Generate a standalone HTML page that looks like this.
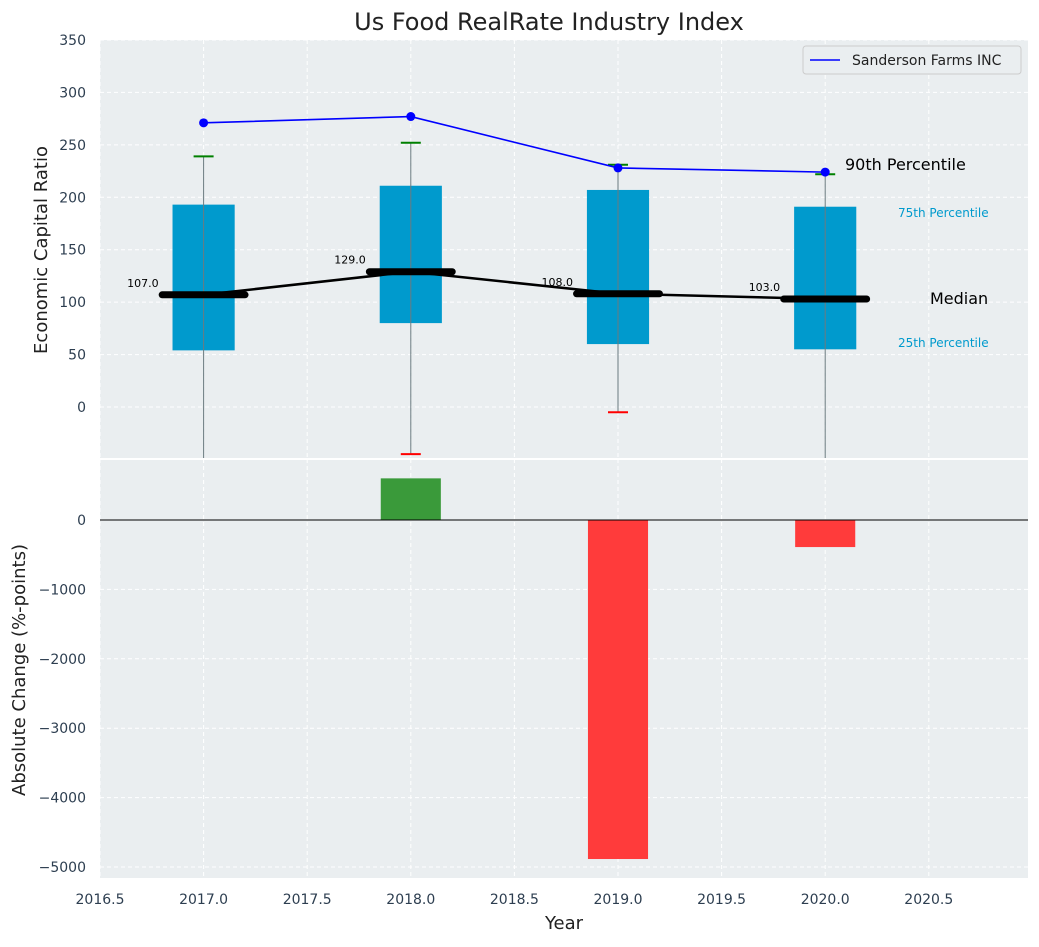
<!DOCTYPE html>
<html><head><meta charset="utf-8"><style>
body{margin:0;background:#fff;}
svg text{font-family:"DejaVu Sans","Liberation Sans",sans-serif;}
</style></head><body>
<svg id="c" width="1039" height="942" xmlns="http://www.w3.org/2000/svg"></svg>
<script>
const years=[2017,2018,2019,2020];
const q1=[54,80,60,55];
const q3=[193,211,207,191];
const medians=[107,129,108,103];
const whiskHi=[239,252,231,222];
const whiskLo=[-60,-45,-5,-60];
const company=[271,277,228,224];
const changes=[null,600,-4885,-390];
const xTicks=[2016.5,2017,2017.5,2018,2018.5,2019,2019.5,2020,2020.5];
const yTopTicks=[0,50,100,150,200,250,300,350];
const yBotTicks=[0,-1000,-2000,-3000,-4000,-5000];

const svg=document.getElementById('c');
const NS='http://www.w3.org/2000/svg';
function el(t,a,p){const e=document.createElementNS(NS,t);for(const k in a)e.setAttribute(k,a[k]);(p||svg).appendChild(e);return e;}
const L=100,R=1028;
const x=v=>L+(v-2016.5)*207.2;
const T0=40,T1=459,B0=459,B1=878;
const yT=v=>407-v*1.0486;
const yB=v=>520-v*0.0694;

// backgrounds
let e=el('rect',{x:L,y:T0,width:R-L,height:T1-T0,fill:'#eaeef0'});

e=el('rect',{x:L,y:B0+1,width:R-L,height:B1-B0-1,fill:'#eaeef0'});

el('line',{x1:L,x2:R,y1:459,y2:459,stroke:'#fff','stroke-width':2});

// grids
xTicks.forEach(v=>{
 el('line',{x1:x(v),x2:x(v),y1:T0,y2:T1,stroke:'#fff','stroke-dasharray':'4,3'});
 el('line',{x1:x(v),x2:x(v),y1:B0,y2:B1,stroke:'#fff','stroke-dasharray':'4,3'});
 e=el('text',{x:x(v),y:904,'text-anchor':'middle','font-size':14,fill:'#2d3e50'});e.textContent=v.toFixed(1);
 
});
yTopTicks.forEach(v=>{
 el('line',{x1:L,x2:R,y1:yT(v),y2:yT(v),stroke:'#fff','stroke-dasharray':'4,3'});
 e=el('text',{x:86,y:yT(v)+5,'text-anchor':'end','font-size':14,fill:'#2d3e50'});e.textContent=v;
 
});
yBotTicks.forEach(v=>{
 el('line',{x1:L,x2:R,y1:yB(v),y2:yB(v),stroke:'#fff','stroke-dasharray':'4,3'});
 e=el('text',{x:86,y:yB(v)+5,'text-anchor':'end','font-size':14,fill:'#2d3e50'});e.textContent=v===0?'0':'\u2212'+Math.abs(v);
 
});

// top clip
const defs=el('defs',{});
const cp=el('clipPath',{id:'tc'},defs);el('rect',{x:L,y:T0,width:R-L,height:T1-T0-1},cp);
const g=el('g',{'clip-path':'url(#tc)'});

const bw=0.3*207.2, mw=0.4*207.2;
years.forEach((yr,i)=>{
 const cx=x(yr);
 e=el('rect',{x:cx-bw/2,y:yT(q3[i]),width:bw,height:yT(q1[i])-yT(q3[i]),fill:'#009acd'},g);
 
 el('line',{x1:cx,x2:cx,y1:yT(whiskHi[i]),y2:yT(whiskLo[i]),stroke:'#6b7b80','stroke-width':1},g);
 el('line',{x1:cx-10,x2:cx+10,y1:yT(whiskHi[i]),y2:yT(whiskHi[i]),stroke:'green','stroke-width':2},g);
 el('line',{x1:cx-10,x2:cx+10,y1:yT(whiskLo[i]),y2:yT(whiskLo[i]),stroke:'red','stroke-width':2},g);
});
let pts=years.map((yr,i)=>x(yr)+','+yT(medians[i])).join(' ');
e=el('polyline',{points:pts,fill:'none',stroke:'#000','stroke-width':2.5},g);

years.forEach((yr,i)=>{
 const cx=x(yr);
 e=el('line',{x1:cx-mw/2,x2:cx+mw/2,y1:yT(medians[i]),y2:yT(medians[i]),stroke:'#000','stroke-width':7,'stroke-linecap':'round'},g);
 
 e=el('text',{x:cx-45,y:yT(medians[i])-8,'text-anchor':'end','font-size':11,fill:'#000'},g);e.textContent=medians[i].toFixed(1);
 
});
pts=years.map((yr,i)=>x(yr)+','+yT(company[i])).join(' ');
e=el('polyline',{points:pts,fill:'none',stroke:'blue','stroke-width':1.6},g);

years.forEach((yr,i)=>{e=el('circle',{cx:x(yr),cy:yT(company[i]),r:4.5,fill:'blue'},g);
 });

// annotations
[['90th Percentile',845,170,16,'#000'],['75th Percentile',898,217,12,'#009acd'],['Median',930,304,16,'#000'],['25th Percentile',898,347,12,'#009acd']].forEach(a=>{
 e=el('text',{x:a[1],y:a[2],'font-size':a[3],fill:a[4]});e.textContent=a[0];
 
});

// legend
const lg=el('g',{});
el('rect',{x:803,y:46,width:218,height:28,rx:3,fill:'#eaeef0',stroke:'#ccc'},lg);
el('line',{x1:810,x2:840,y1:60,y2:60,stroke:'blue','stroke-width':1.6},lg);
e=el('text',{x:852,y:65,'font-size':14,fill:'#222'},lg);e.textContent='Sanderson Farms INC';

// bottom bars
const bb=0.29*207.2;
years.forEach((yr,i)=>{
 if(changes[i]===null)return;
 const v=changes[i];
 e=el('rect',{x:x(yr)-bb/2,y:Math.min(yB(v),yB(0)),width:bb,height:Math.abs(yB(v)-yB(0)),fill:v>=0?'#3a9a3a':'#ff3b3b'});
 
});
el('line',{x1:L,x2:R,y1:yB(0),y2:yB(0),stroke:'#000','stroke-width':1});

// titles
e=el('text',{x:549,y:30,'text-anchor':'middle','font-size':24,fill:'#222'});e.textContent='Us Food RealRate Industry Index';

e=el('text',{x:564,y:929,'text-anchor':'middle','font-size':18,fill:'#222'});e.textContent='Year';

e=el('text',{x:47,y:250,'text-anchor':'middle','font-size':18,fill:'#222',transform:'rotate(-90 47 250)'});e.textContent='Economic Capital Ratio';

e=el('text',{x:25,y:670,'text-anchor':'middle','font-size':18,fill:'#222',transform:'rotate(-90 25 670)'});e.textContent='Absolute Change (%-points)';

</script>
</body></html>
